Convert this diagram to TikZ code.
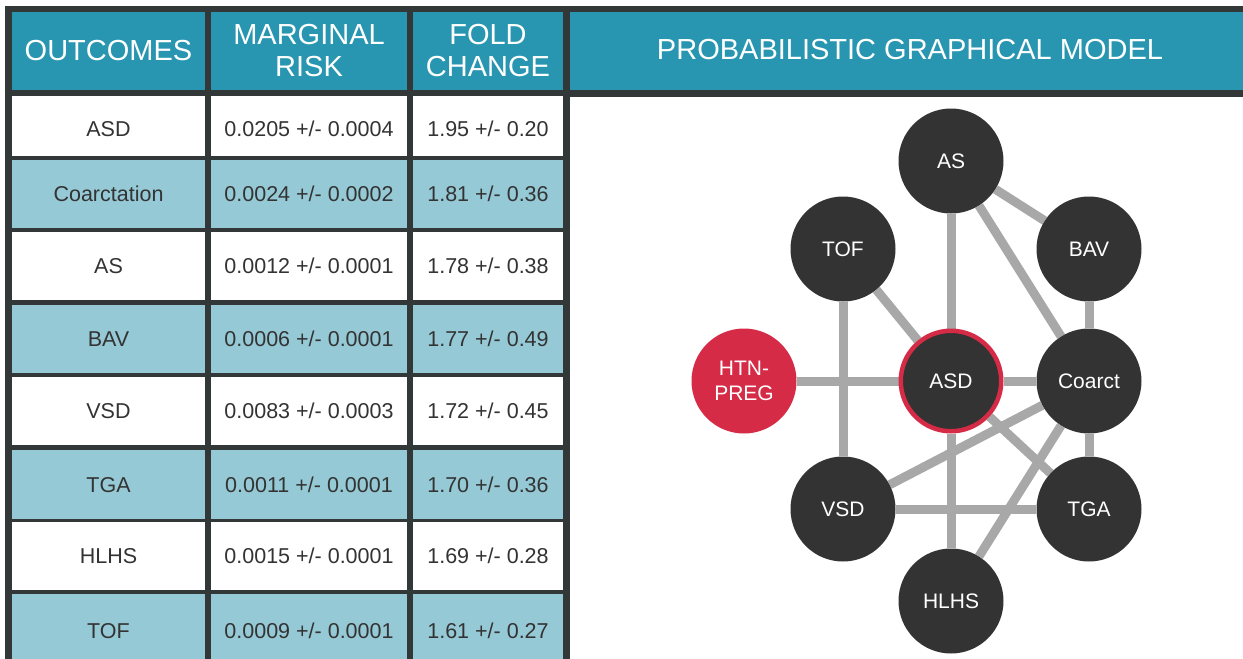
\documentclass[tikz,border=0pt]{standalone}
\usepackage{fontspec}
\setmainfont{Liberation Sans}
\pgfdeclarelayer{background}
\pgfdeclarelayer{edges}
\pgfsetlayers{background,edges,main}

\definecolor{hdrteal}{RGB}{40,150,176}
\definecolor{rowblue}{RGB}{149,201,213}
\definecolor{framegray}{RGB}{50,55,56}
\definecolor{nodegray}{RGB}{51,51,51}
\definecolor{linkgray}{RGB}{168,168,168}
\definecolor{htnred}{RGB}{213,43,70}
\definecolor{celltext}{RGB}{51,51,51}

\tikzset{
  hcell/.style={fill=hdrteal, text=white, inner sep=0pt, outer sep=0pt, align=center,
    font=\fontsize{29}{32}\selectfont},
  bcell/.style={inner sep=0pt, outer sep=0pt, text=celltext, text height=15.5pt, text depth=0pt,
    font=\fontsize{21.5}{25}\selectfont},
  lowtext/.style={text height=21.5pt},
  gnode/.style={circle, fill=nodegray, text=white, minimum size=105pt, inner sep=0pt,
    align=center, font=\fontsize{21}{25}\selectfont},
  link/.style={draw=linkgray, line width=9pt}
}

% one table row: [extra style] index, top, bottom, fill, outcome, marginal risk, fold change
\newcommand\tablerow[8][]{%
  \node[bcell, #1, fill=#5, minimum width=193pt, minimum height={#4-#3}] (out#2) at (108.5,{(#3+#4)/2}) {#6};
  \node[bcell, #1, fill=#5, minimum width=196pt, minimum height={#4-#3}] (mr#2) at (309,{(#3+#4)/2}) {#7};
  \node[bcell, #1, fill=#5, minimum width=150pt, minimum height={#4-#3}] (fc#2) at (488,{(#3+#4)/2}) {#8};
}

\begin{document}
\begin{tikzpicture}[x=1pt,y=-1pt]
\useasboundingbox (0,0) rectangle (1243,659);

\begin{pgfonlayer}{background}
  \fill[white] (0,0) rectangle (1243,659);
  \fill[framegray] (5,6) rectangle (570,659);
  \fill[framegray] (5,6) rectangle (1243,97);
\end{pgfonlayer}

% header
\node[hcell, minimum width=193pt, minimum height=78pt] (hOut) at (108.5,51) {OUTCOMES};
\node[hcell, minimum width=196pt, minimum height=78pt] (hMr) at (309,51) {MARGINAL\\RISK};
\node[hcell, minimum width=150pt, minimum height=78pt] (hFc) at (488,51) {FOLD\\CHANGE};
\node[hcell, minimum width=673pt, minimum height=78pt] (hPgm) at (906.5,51) {};
\node[text=white, font=\fontsize{29}{32}\selectfont, inner sep=0pt] (hPgmText) at (910,50) {PROBABILISTIC GRAPHICAL MODEL};

% body
\tablerow[lowtext]{1}{96}{156}{white}{ASD}{0.0205 +/- 0.0004}{1.95 +/- 0.20}
\tablerow{2}{160}{228}{rowblue}{Coarctation}{0.0024 +/- 0.0002}{1.81 +/- 0.36}
\tablerow{3}{232}{300}{white}{AS}{0.0012 +/- 0.0001}{1.78 +/- 0.38}
\tablerow{4}{305}{373}{rowblue}{BAV}{0.0006 +/- 0.0001}{1.77 +/- 0.49}
\tablerow{5}{377}{445}{white}{VSD}{0.0083 +/- 0.0003}{1.72 +/- 0.45}
\tablerow{6}{450}{519}{rowblue}{TGA}{0.0011 +/- 0.0001}{1.70 +/- 0.36}
\tablerow{7}{522}{590}{white}{HLHS}{0.0015 +/- 0.0001}{1.69 +/- 0.28}
\tablerow{8}{594}{668}{rowblue}{TOF}{0.0009 +/- 0.0001}{1.61 +/- 0.27}

% graphical model
\node[gnode] (AS) at (951,161) {AS};
\node[gnode] (TOF) at (843,249) {TOF};
\node[gnode] (BAV) at (1089,249) {BAV};
\node[gnode, fill=htnred] (HTN) at (744,381) {HTN-\\PREG};
\node[gnode, draw=htnred, line width=4.5pt, minimum size=100.5pt] (ASD) at (951,381) {ASD};
\node[gnode] (Coarct) at (1089,381) {Coarct};
\node[gnode] (VSD) at (843,509) {VSD};
\node[gnode] (TGA) at (1089,509) {TGA};
\node[gnode] (HLHS) at (951,601) {HLHS};

\begin{pgfonlayer}{edges}
  \draw[link] (AS) -- (BAV);
  \draw[link] (AS) -- (ASD);
  \draw[link] (AS) -- (Coarct);
  \draw[link] (BAV) -- (Coarct);
  \draw[link] (TOF) -- (ASD);
  \draw[link] (TOF) -- (VSD);
  \draw[link] (HTN) -- (ASD);
  \draw[link] (ASD) -- (Coarct);
  \draw[link] (ASD) -- (TGA);
  \draw[link] (ASD) -- (HLHS);
  \draw[link] (Coarct) -- (VSD);
  \draw[link] (Coarct) -- (HLHS);
  \draw[link] (Coarct) -- (TGA);
  \draw[link] (VSD) -- (TGA);
\end{pgfonlayer}
\end{tikzpicture}
\end{document}
